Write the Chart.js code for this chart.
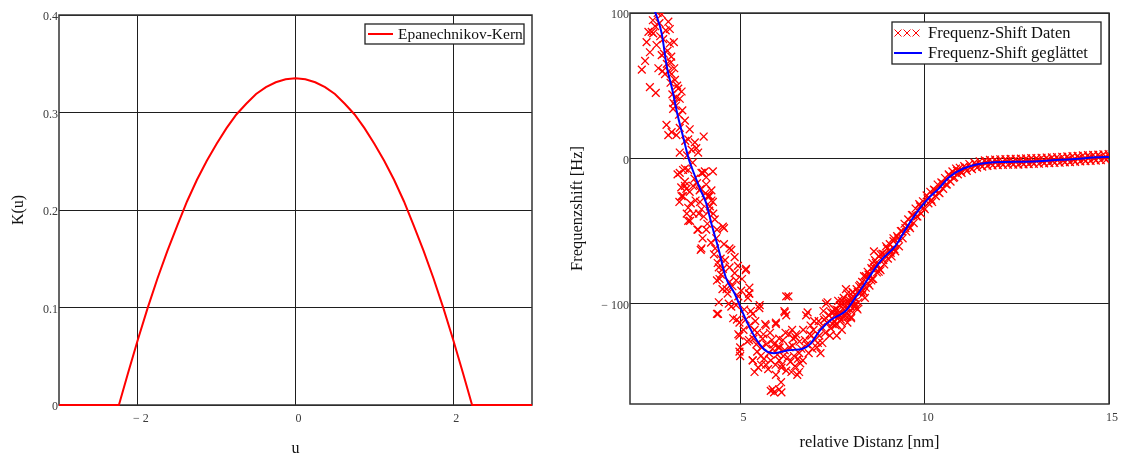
<!DOCTYPE html>
<html>
<head>
<meta charset="utf-8">
<script src="https://cdn.jsdelivr.net/npm/chart.js@4.4.1/dist/chart.umd.min.js"></script>
<style>
  html, body { margin: 0; padding: 0; background: #fff; }
  #wrap { position: relative; width: 1122px; height: 458px; }
  .box { position: absolute; top: 0; width: 561px; height: 458px; }
  #left { left: 0; }
  #right { left: 561px; }
</style>
</head>
<body>
<div id="wrap">
  <div class="box" id="left"><canvas id="kern" width="561" height="458"></canvas></div>
  <div class="box" id="right"><canvas id="shift" width="561" height="458"></canvas></div>
</div>
<script>
// ---- left chart: Epanechnikov kernel ----
const kernelU = [-3, -2.24, -2.125, -2, -1.875, -1.75, -1.625, -1.5, -1.375, -1.25, -1.125, -1, -0.875, -0.75, -0.625, -0.5, -0.375, -0.25, -0.125,
  0, 0.125, 0.25, 0.375, 0.5, 0.625, 0.75, 0.875, 1, 1.125, 1.25, 1.375, 1.5, 1.625, 1.75, 1.875, 2, 2.125, 2.24, 3];
const kernelK = [0, 0, 0.0325, 0.067, 0.0996, 0.130, 0.158, 0.184, 0.209, 0.231, 0.2505, 0.268, 0.284, 0.298, 0.309, 0.319, 0.326, 0.331, 0.334,
  0.335, 0.334, 0.331, 0.326, 0.319, 0.309, 0.298, 0.284, 0.268, 0.2505, 0.231, 0.209, 0.184, 0.158, 0.130, 0.0996, 0.067, 0.0325, 0, 0];
const kernelTicksX = [-2, 0, 2];

// ---- right chart: frequency shift data ----
// steep part, small distances
const nearX = [2.32, 2.41, 2.54, 2.54, 2.70, 2.59, 2.68, 2.63, 2.50, 2.86, 3.04, 3.08, 2.77, 2.86, 2.92, 3.08, 3.19, 2.95, 3.13, 3.22,
  3.31, 3.40, 3.26, 3.35, 3.17, 2.99, 3.13, 3.04, 3.26, 3.35, 3.49, 3.62, 3.58, 3.76, 3.80, 4.00, 3.35, 3.67, 3.85, 3.35,
  3.49, 3.58, 3.94, 4.03, 4.25, 3.49, 3.62, 3.40, 3.89, 4.07, 4.21, 4.12, 2.75, 2.95, 2.80, 3.00, 3.10, 3.20, 2.90, 3.15,
  3.28, 3.12, 3.05, 3.18,
  2.45, 2.62, 2.72, 2.82, 2.88, 2.97, 3.02, 3.11, 3.24, 3.33, 3.42, 3.50, 3.55, 3.70, 3.75, 3.82, 3.90, 4.00, 4.05, 4.10,
  4.15, 4.30, 3.65, 3.72];
const nearY = [61, 67, 73, 49, 45, 87, 91, 86, 87, 99, 94, 89, 62, 71, 72, 79, 80, 58, 58, 54,
  48, 46, 42, 41, 34, 23, 18, 16, 16, 21, 26, 20, 13, 11, 7, 15, 4, 6, 4, -10,
  -7, -8, -10, -9, -9, -19, -23, -26, -22, -18, -22, -26, 100, 103, 93, 65, 52, 62, 82, 44,
  50, 70, 60, 38,
  80, 95, 78, 84, 60, 88, 74, 66, 36, 30, 33, 12, 2, -3, -14, -17, -30, -40, -24, -45,
  -36, -42, -31, -38];
// potential well
const wellX = [3.29, 3.44, 3.39, 3.49, 3.34, 3.44, 3.58, 3.54, 3.63, 3.78, 3.87, 3.92, 3.97, 4.07, 4.12, 4.21, 4.26, 4.17, 3.83, 3.92,
  4.07, 4.36, 4.55, 4.31, 4.46, 4.41, 4.55, 4.75, 4.70, 4.84, 4.36, 4.51, 4.65, 4.41, 4.36, 4.75, 4.94, 5.14, 5.04, 5.23,
  4.90, 4.94, 4.99, 4.99, 5.14, 5.33, 5.52, 5.38, 5.23, 5.43, 5.33, 5.48, 5.38, 5.62, 5.67, 5.77, 5.82, 5.91, 5.96, 6.06,
  6.15, 6.20, 6.30, 6.11, 5.96, 5.91, 6.11, 5.82, 6.40, 6.49, 6.59, 6.54, 6.69, 6.78, 6.88, 6.98, 7.07, 7.17, 7.27, 7.32,
  7.46, 7.61, 7.66, 7.75, 7.90, 8.00, 8.09, 8.05,
  3.53, 3.71, 4.16, 4.25, 3.94, 3.58, 3.85, 4.52, 3.94, 4.34, 4.70, 4.84, 4.52, 4.93, 5.15, 4.43, 4.70, 5.02, 5.24, 4.39,
  4.88, 5.24, 5.51, 4.97, 4.97, 4.97, 5.33, 5.56, 5.69, 5.60, 5.96, 6.24, 6.19, 6.24, 6.05, 5.87, 6.32, 6.41, 5.69, 6.05,
  6.24, 6.59, 6.51, 6.82, 6.95, 7.14, 6.10, 5.87, 6.05, 7.32, 7.50, 7.68, 7.36, 7.86, 8.04, 8.22, 8.40, 8.62, 8.62, 7.86,
  5.70, 5.80, 6.00, 6.20, 6.35, 6.45, 6.60, 6.70, 6.80, 6.90, 7.00, 7.10, 7.20, 7.30, 7.40, 7.45, 7.55, 5.45, 5.55, 5.25,
  5.10, 5.35, 6.12, 6.28, 6.48, 6.65, 7.25, 7.60, 7.70, 7.80, 7.95, 8.10, 8.30, 8.50, 8.70, 8.80, 8.00, 8.15, 8.35, 8.55,
  7.90, 7.75,
  3.97, 4.20, 4.28, 4.38, 4.47, 4.58, 4.62, 4.68, 4.78, 4.80, 4.88, 5.08, 5.18, 5.20, 5.28, 5.40, 5.45, 5.58, 5.64, 5.75,
  5.85, 5.95, 6.02, 6.16, 6.22, 6.33, 6.38, 6.43, 6.56, 6.62, 6.75, 6.85, 6.92, 7.02, 7.12, 7.22, 7.35, 7.42, 7.52, 7.58,
  7.65, 7.72, 7.82, 7.92, 8.02, 8.18, 8.28, 8.45, 8.58, 8.75, 8.90, 9.05, 9.15];
const wellY = [-11, -8, -20, -16, -30, -26, -34, -38, -43, -29, -38, -21, -10, -13, -26, -29, -38, -33, -49, -63,
  -49, -49, -48, -62, -69, -75, -59, -63, -75, -79, -84, -90, -93, -99, -107, -102, -95, -77, -83, -93,
  -111, -121, -130, -136, -111, -107, -101, -118, -125, -128, -139, -144, -147, -121, -114, -134, -139, -128, -114, -130,
  -125, -106, -95, -144, -149, -161, -161, -160, -118, -123, -134, -149, -139, -108, -121, -118, -130, -134, -111, -100,
  -106, -122, -107, -98, -93, -109, -102, -95,
  -21, -19, -26, -30, -35, -43, -49, -47, -62, -55, -62, -68, -76, -74, -76, -83, -85, -91, -89, -107,
  -101, -93, -103, -113, -122, -133, -139, -142, -115, -124, -113, -95, -105, -108, -124, -131, -121, -129, -142, -139,
  -146, -147, -121, -106, -131, -122, -154, -159, -159, -110, -114, -108, -99, -103, -92, -88, -81, -75, -64, -90,
  -128, -120, -135, -132, -140, -136, -126, -118, -128, -115, -112, -127, -116, -120, -108, -117, -112, -133, -136, -115,
  -104, -124, -142, -137, -143, -131, -105, -104, -101, -96, -99, -96, -85, -80, -73, -66, -110, -103, -92, -84,
  -113, -118,
  -55, -58, -66, -72, -80, -70, -90, -100, -88, -110, -84, -118, -126, -96, -105, -112, -120, -130, -138, -145,
  -125, -142, -130, -136, -120, -130, -147, -124, -138, -141, -125, -134, -122, -125, -112, -127, -113, -122, -106, -115,
  -98, -111, -108, -103, -97, -92, -90, -86, -72, -78, -66, -63, -55];
// dense rising band
const bandX = [7.55, 7.60, 7.65, 7.70, 7.75, 7.80, 7.85, 7.90, 7.95, 8.00, 8.05, 8.10, 8.15, 8.20, 8.25, 8.30, 8.35, 8.40, 8.45, 8.50,
  8.55, 8.60, 8.65, 8.70, 8.75, 8.80, 8.85, 8.90, 8.95, 9.00, 9.05, 9.10, 9.15, 9.20, 9.25, 9.30, 9.35, 9.40, 9.45, 9.50,
  9.55, 9.60, 9.65, 9.70, 9.75, 9.80, 9.85, 9.90, 9.95, 10.00, 10.05, 10.10, 10.15, 10.20, 10.25, 10.30, 10.35, 10.40, 10.45, 10.50,
  10.55, 10.60, 10.65, 10.70, 10.75, 10.80, 10.85, 10.90, 10.95, 11.00];
const bandY = [-104, -114, -104.5, -112, -100, -109, -99, -109, -97.5, -105, -92, -100.5, -90, -99, -87, -94, -81, -89, -78, -87.5,
  -75.5, -83, -70, -78.5, -67.5, -77, -65.5, -73, -60.5, -69, -59, -67.5, -57, -64, -53.5, -60.5, -50, -55, -45, -50.5,
  -42, -48, -39, -44.5, -34.5, -40, -31.5, -38, -29.5, -35, -25.5, -31, -23, -30, -21.5, -26, -18, -24, -16.5, -21,
  -13.5, -18, -11, -16, -9, -13, -7, -11, -6.5, -10];
const bandMidX = [7.575, 7.675, 7.775, 7.875, 7.975, 8.075, 8.175, 8.275, 8.375, 8.475, 8.575, 8.675, 8.775, 8.875, 8.975, 9.075, 9.175, 9.275, 9.375, 9.475,
  9.575, 9.675, 9.775, 9.875, 9.975, 10.075, 10.175, 10.275, 10.375, 10.475, 10.575, 10.675, 10.775, 10.875, 10.975];
const bandMidY = [-107.5, -109, -103.5, -106.5, -101.5, -99, -104, -92, -96, -80, -83, -72, -76, -70, -62, -65, -62.5, -55, -50, -48,
  -47, -39, -40, -33, -34, -27.5, -28.5, -22, -23.5, -17, -18, -12, -13.5, -8.5, -9];
// flat tail, large distances
const tailX = [11.07, 11.14, 11.21, 11.28, 11.35, 11.42, 11.49, 11.56, 11.63, 11.70, 11.77, 11.84, 11.91, 11.98, 12.05, 12.12, 12.19, 12.26, 12.33, 12.40,
  12.47, 12.54, 12.61, 12.68, 12.75, 12.82, 12.89, 12.96, 13.03, 13.10, 13.17, 13.24, 13.31, 13.38, 13.45, 13.52, 13.59, 13.66, 13.73, 13.80,
  13.87, 13.94, 14.01, 14.08, 14.15, 14.22, 14.29, 14.36, 14.43, 14.50, 14.57, 14.64, 14.71, 14.78, 14.85, 14.92, 14.99];
const tailY = [-5.3, -8.6, -3.9, -7.4, -2.9, -6.4, -2.0, -5.7, -1.4, -5.2, -1.0, -4.9, -0.8, -4.6, -0.6, -4.5, -0.5, -4.4, -0.4, -4.3,
  -0.3, -4.3, -0.2, -4.1, 0, -4, 0.1, -3.8, 0.2, -3.7, 0.4, -3.5, 0.6, -3.3, 0.7, -3.2, 0.9, -3.0, 1.1, -2.8,
  1.3, -2.6, 1.5, -2.4, 1.7, -2.1, 2.0, -1.9, 2.2, -1.7, 2.4, -1.5, 2.6, -1.3, 2.8, -1.1, 3.0];
const tailMidX = [11.10, 11.24, 11.38, 11.52, 11.66, 11.80, 11.94, 12.08, 12.22, 12.36, 12.50, 12.64, 12.78, 12.92, 13.06, 13.20, 13.34, 13.48, 13.62, 13.76,
  13.90, 14.04, 14.18, 14.32, 14.46, 14.60, 14.74, 14.88, 15.00];
const tailMidY = [-6.5, -6.3, -4.1, -4.4, -2.8, -3.5, -2.2, -3.1, -2.0, -2.9, -1.8, -2.7, -1.5, -2.4, -1.3, -2.1, -0.9, -1.7, -0.6, -1.4,
  -0.2, -1.0, 0.3, -0.5, 0.7, 0, 1.1, 0.3, 1.5];
// smoothed curve
const smoothX = [2.68, 2.86, 3.0, 3.15, 3.29, 3.44, 3.6, 3.7, 3.92, 4.07, 4.21, 4.41, 4.6, 4.84, 5.04, 5.28, 5.52, 5.72, 5.91, 6.3,
  6.69, 6.88, 7.17, 7.46, 7.85, 8.14, 8.43, 8.82, 9.21, 9.5, 9.79, 10.08, 10.37, 10.66, 11.05, 11.44, 11.73, 12.2, 12.7, 13.2,
  13.67, 14.2, 14.64, 15];
const smoothY = [101, 86, 63, 47, 30, 15, -1, -8, -22, -31, -45, -63, -82, -93, -105, -118, -128, -133, -134, -132,
  -131, -128, -118, -111, -105, -95, -84, -70, -60, -48, -37, -28, -21, -13, -7, -4, -3, -2.5, -2.3, -1.8,
  -1, -0.3, 0.7, 1];
const shiftTicksX = [5, 10, 15];
const shiftTicksY = [-100, 0, 100];

const SERIF = '"Liberation Serif", "Times New Roman", serif';
const RED = '#ff0000';
const BLUE = '#0000ff';
const GRID = '#1e1e1e';
const TICK = '#3a3a3a';

function pts(xs, ys) {
  return xs.map((x, i) => ({ x: x, y: ys[i] }));
}

function minusLabel(v) {
  return v < 0 ? '\u2212 ' + Math.abs(v) : String(v);
}

// frame around plot area
const framePlugin = {
  id: 'frame',
  beforeDatasetsDraw(chart) {
    const a = chart.chartArea, ctx = chart.ctx;
    ctx.save();
    ctx.strokeStyle = '#333';
    ctx.lineWidth = 1.5;
    ctx.strokeRect(a.left, a.top, a.right - a.left, a.bottom - a.top);
    ctx.restore();
  }
};

// legend drawn inside the plot with a box, like the original
function legendPlugin(box) {
  return {
    id: 'boxLegend',
    afterDraw(chart) {
      const ctx = chart.ctx;
      ctx.save();
      ctx.fillStyle = '#fff';
      ctx.fillRect(box.x, box.y, box.w, box.h);
      ctx.strokeStyle = '#222';
      ctx.lineWidth = 1.3;
      ctx.strokeRect(box.x, box.y, box.w, box.h);
      ctx.font = box.font + 'px ' + SERIF;
      ctx.textBaseline = 'middle';
      ctx.textAlign = 'left';
      box.rows.forEach(r => {
        const ds = chart.data.datasets[r.ds];
        if (r.kind === 'line') {
          ctx.strokeStyle = ds.borderColor;
          ctx.lineWidth = 2;
          ctx.beginPath();
          ctx.moveTo(r.x0, r.y);
          ctx.lineTo(r.x1, r.y);
          ctx.stroke();
        } else {
          ctx.strokeStyle = ds.borderColor;
          ctx.lineWidth = 1;
          for (let k = 0; k < 3; k++) {
            const cx = r.x0 + 4 + k * 9;
            ctx.beginPath();
            ctx.moveTo(cx - 3.5, r.y - 3.5); ctx.lineTo(cx + 3.5, r.y + 3.5);
            ctx.moveTo(cx - 3.5, r.y + 3.5); ctx.lineTo(cx + 3.5, r.y - 3.5);
            ctx.stroke();
          }
        }
        ctx.fillStyle = '#111';
        ctx.fillText(ds.label, r.tx, r.y + 1);
      });
      ctx.restore();
    }
  };
}

function fixedWidth(w) { return scale => { scale.width = w; }; }
function fixedHeight(h) { return scale => { scale.height = h; }; }
function setTicks(list) { return scale => { scale.ticks = list.map(v => ({ value: v })); }; }

// left chart
new Chart(document.getElementById('kern'), {
  type: 'scatter',
  data: {
    datasets: [{
      label: 'Epanechnikov-Kern',
      data: pts(kernelU, kernelK),
      showLine: true,
      borderColor: RED,
      backgroundColor: RED,
      borderWidth: 2,
      pointRadius: 0,
      clip: 2
    }]
  },
  options: {
    responsive: false,
    animation: false,
    devicePixelRatio: 1,
    layout: { padding: { top: 15, right: 29, left: 0, bottom: 0 } },
    plugins: { legend: { display: false }, tooltip: { enabled: false } },
    scales: {
      x: {
        type: 'linear', min: -3, max: 3,
        afterBuildTicks: setTicks(kernelTicksX),
        afterFit: fixedHeight(53),
        grid: { color: GRID, lineWidth: 1, drawTicks: false },
        border: { display: false },
        ticks: { padding: 7, labelOffset: 3, color: TICK, font: { family: SERIF, size: 12 }, callback: minusLabel },
        title: { display: true, text: 'u', color: '#111', font: { family: SERIF, size: 16 }, padding: { top: 0, bottom: 0 } }
      },
      y: {
        type: 'linear', min: 0, max: 0.4,
        afterFit: fixedWidth(59),
        grid: { color: GRID, lineWidth: 1, drawTicks: false },
        border: { display: false },
        ticks: { stepSize: 0.1, padding: 1, labelOffset: 2, color: TICK, font: { family: SERIF, size: 12 },
          callback: v => v === 0 ? '0' : v.toFixed(1) },
        title: { display: true, text: 'K(u)', color: '#111', font: { family: SERIF, size: 16 }, padding: { top: 9, bottom: 0 } }
      }
    }
  },
  plugins: [framePlugin, legendPlugin({
    x: 365, y: 24, w: 159, h: 20, font: 15.5,
    rows: [{ ds: 0, kind: 'line', x0: 368, x1: 393, y: 34, tx: 398 }]
  })]
});

// right chart (canvas starts at x = 561)
const OX = 561;
new Chart(document.getElementById('shift'), {
  type: 'scatter',
  data: {
    datasets: [{
      label: 'Frequenz-Shift Daten',
      data: pts(nearX, nearY).concat(pts(wellX, wellY), pts(bandX, bandY), pts(bandMidX, bandMidY),
        pts(tailX, tailY), pts(tailMidX, tailMidY)),
      borderColor: RED,
      backgroundColor: RED,
      pointStyle: 'crossRot',
      pointRadius: 5.5,
      pointBorderWidth: 1.3,
      order: 2,
      clip: 0
    }, {
      label: 'Frequenz-Shift geglättet',
      data: pts(smoothX, smoothY),
      showLine: true,
      borderColor: BLUE,
      backgroundColor: BLUE,
      borderWidth: 2,
      pointRadius: 0,
      cubicInterpolationMode: 'monotone',
      order: 1,
      clip: 1
    }]
  },
  options: {
    responsive: false,
    animation: false,
    devicePixelRatio: 1,
    layout: { padding: { top: 13, right: 11, left: 0, bottom: 0 } },
    plugins: { legend: { display: false }, tooltip: { enabled: false } },
    scales: {
      x: {
        type: 'linear', min: 2, max: 15,
        afterBuildTicks: setTicks(shiftTicksX),
        afterFit: fixedHeight(54),
        grid: { color: GRID, lineWidth: 1, drawTicks: false },
        border: { display: false },
        ticks: { padding: 7, labelOffset: 3, color: TICK, font: { family: SERIF, size: 12 }, callback: minusLabel },
        title: { display: true, text: 'relative Distanz [nm]', color: '#111', font: { family: SERIF, size: 16.5 }, padding: { top: 0, bottom: 5 } }
      },
      y: {
        type: 'linear', min: -169, max: 100,
        afterBuildTicks: setTicks(shiftTicksY),
        afterFit: fixedWidth(69),
        grid: { color: GRID, lineWidth: 1, drawTicks: false },
        border: { display: false },
        ticks: { padding: 1, labelOffset: 2, color: TICK, font: { family: SERIF, size: 12 }, callback: minusLabel },
        title: { display: true, text: 'Frequenzshift [Hz]', color: '#111', font: { family: SERIF, size: 16.5 }, padding: { top: 7, bottom: 0 } }
      }
    }
  },
  plugins: [framePlugin, legendPlugin({
    x: 892 - OX, y: 22, w: 209, h: 42, font: 16.5,
    rows: [
      { ds: 0, kind: 'cross', x0: 894 - OX, y: 33, tx: 928 - OX },
      { ds: 1, kind: 'line', x0: 894 - OX, x1: 922 - OX, y: 53, tx: 928 - OX }
    ]
  })]
});
</script>
</body>
</html>
